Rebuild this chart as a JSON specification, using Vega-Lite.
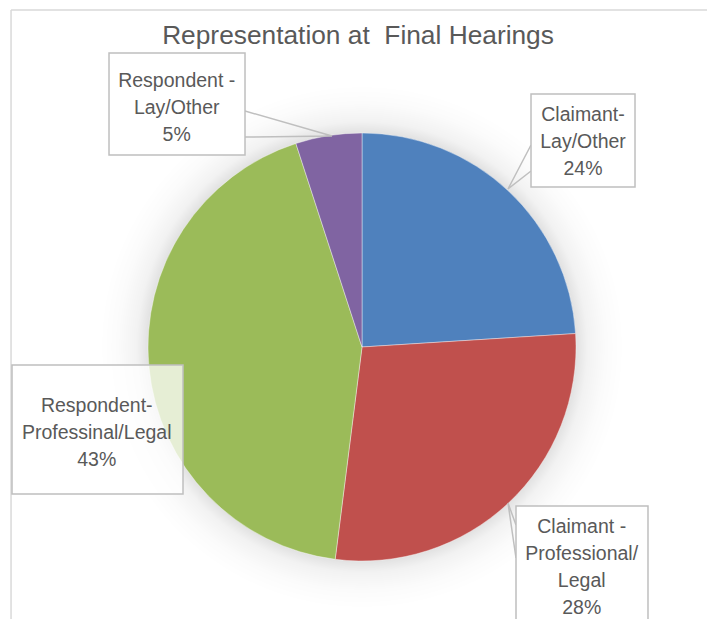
{
  "$schema": "https://vega.github.io/schema/vega-lite/v6.json",
  "width": 707,
  "height": 619,
  "autosize": {"type": "none"},
  "padding": 0,
  "background": "#ffffff",
  "config": {"view": {"stroke": null}, "font": "Liberation Sans, Arial, sans-serif"},
  "datasets": {
    "slices": [
      {"category": "Claimant-Lay/Other", "value": 24, "order": 1},
      {"category": "Claimant - Professional/Legal", "value": 28, "order": 2},
      {"category": "Respondent-Professinal/Legal", "value": 43, "order": 3},
      {"category": "Respondent - Lay/Other", "value": 5, "order": 4}
    ],
    "boxes": [
      {"id": "cl", "text": "Claimant-\nLay/Other\n24%", "x1": 78.97, "x2": 127.57, "y1": 118.22, "y2": 74.77, "tx": 103.27, "ty": 108.18},
      {"id": "rl", "text": "Respondent -\nLay/Other\n5%", "x1": -118.22, "x2": -54.67, "y1": 137.38, "y2": 89.72, "tx": -86.59, "ty": 124.3},
      {"id": "rp", "text": "Respondent-\nProfessinal/Legal\n43%", "x1": -163.55, "x2": -83.64, "y1": -8.41, "y2": -68.69, "tx": -123.97, "ty": -27.34},
      {"id": "cp", "text": "Claimant -\nProfessional/\nLegal\n28%", "x1": 71.96, "x2": 133.64, "y1": -74.3, "y2": -140, "tx": 102.66, "ty": -83.88}
    ],
    "leaders": [
      {"id": "cl", "i": 1, "x": 78.97, "y": 94.39},
      {"id": "cl", "i": 2, "x": 68.22, "y": 73.83},
      {"id": "cl", "i": 3, "x": 78.97, "y": 82.24},
      {"id": "rl", "i": 1, "x": -54.67, "y": 110.28},
      {"id": "rl", "i": 2, "x": -14.02, "y": 98.6},
      {"id": "rl", "i": 3, "x": -54.67, "y": 98.13},
      {"id": "cp", "i": 1, "x": 71.96, "y": -83.18},
      {"id": "cp", "i": 2, "x": 68.22, "y": -72.9},
      {"id": "cp", "i": 3, "x": 71.96, "y": -98.6}
    ]
  },
  "layer": [
    {
      "data": {"values": [{"f": 1}]},
      "mark": {"type": "rule", "stroke": "#D9D9D9", "strokeWidth": 1.5},
      "encoding": {
        "x": {"datum": -164, "type": "quantitative", "scale": {"domain": [-169.16, 161.21], "nice": false, "zero": false}, "axis": null},
        "x2": {"datum": 175},
        "y": {"datum": 157.5, "type": "quantitative", "scale": {"domain": [-127.1, 162.15], "nice": false, "zero": false}, "axis": null}
      }
    },
    {
      "data": {"values": [{"f": 1}]},
      "mark": {"type": "rule", "stroke": "#D9D9D9", "strokeWidth": 1.5},
      "encoding": {
        "x": {"datum": -164, "type": "quantitative"},
        "y": {"datum": 157.5, "type": "quantitative"},
        "y2": {"datum": -140}
      }
    },
    {
      "data": {"values": [{"f": 1}]},
      "mark": {
        "type": "arc", "radius": 262, "theta": 0, "theta2": 6.2832,
        "fill": {"gradient": "radial", "x1": 0.5, "y1": 0.5, "r1": 0, "x2": 0.5, "y2": 0.5, "r2": 0.5,
          "stops": [
            {"offset": 0, "color": "rgba(0,0,0,0.14)"},
            {"offset": 0.8, "color": "rgba(0,0,0,0.14)"},
            {"offset": 0.86, "color": "rgba(0,0,0,0.05)"},
            {"offset": 0.93, "color": "rgba(0,0,0,0.015)"},
            {"offset": 1, "color": "rgba(0,0,0,0)"}
          ]}
      },
      "encoding": {
        "x": {"datum": 0, "type": "quantitative"},
        "y": {"datum": 0, "type": "quantitative"}
      }
    },
    {
      "data": {"name": "slices"},
      "mark": {"type": "arc", "radius": 214, "stroke": "#ffffff", "strokeWidth": 0.8, "strokeOpacity": 0.5},
      "encoding": {
        "theta": {"field": "value", "type": "quantitative", "stack": true},
        "order": {"field": "order", "type": "quantitative"},
        "color": {
          "field": "category", "type": "nominal", "legend": null,
          "scale": {
            "domain": ["Claimant-Lay/Other", "Claimant - Professional/Legal", "Respondent-Professinal/Legal", "Respondent - Lay/Other"],
            "range": ["#4F81BD", "#C0504D", "#9BBB59", "#8064A2"]
          }
        },
        "x": {"datum": 0, "type": "quantitative"},
        "y": {"datum": 0, "type": "quantitative"}
      }
    },
    {
      "data": {"name": "leaders"},
      "mark": {"type": "line", "stroke": "#BFBFBF", "strokeWidth": 1.5},
      "encoding": {
        "x": {"field": "x", "type": "quantitative"},
        "y": {"field": "y", "type": "quantitative"},
        "detail": {"field": "id"},
        "order": {"field": "i", "type": "quantitative"}
      }
    },
    {
      "data": {"name": "boxes"},
      "mark": {"type": "rect", "fill": "#ffffff", "stroke": "#BFBFBF", "strokeWidth": 1.5},
      "encoding": {
        "x": {"field": "x1", "type": "quantitative"},
        "x2": {"field": "x2"},
        "y": {"field": "y1", "type": "quantitative"},
        "y2": {"field": "y2"},
        "fillOpacity": {"condition": {"test": "datum.id === 'rp'", "value": 0.75}, "value": 1}
      }
    },
    {
      "data": {"name": "boxes"},
      "mark": {"type": "text", "lineBreak": "\n", "fontSize": 19.5, "lineHeight": 27, "color": "#595959", "align": "center", "baseline": "middle"},
      "encoding": {
        "x": {"field": "tx", "type": "quantitative"},
        "y": {"field": "ty", "type": "quantitative"},
        "text": {"field": "text"}
      }
    },
    {
      "data": {"values": [{"title": "Representation at\u00a0 Final Hearings"}]},
      "mark": {"type": "text", "fontSize": 26.3, "color": "#595959", "align": "center", "baseline": "middle"},
      "encoding": {
        "x": {"datum": -1.87, "type": "quantitative"},
        "y": {"datum": 145.56, "type": "quantitative"},
        "text": {"field": "title"}
      }
    }
  ]
}
